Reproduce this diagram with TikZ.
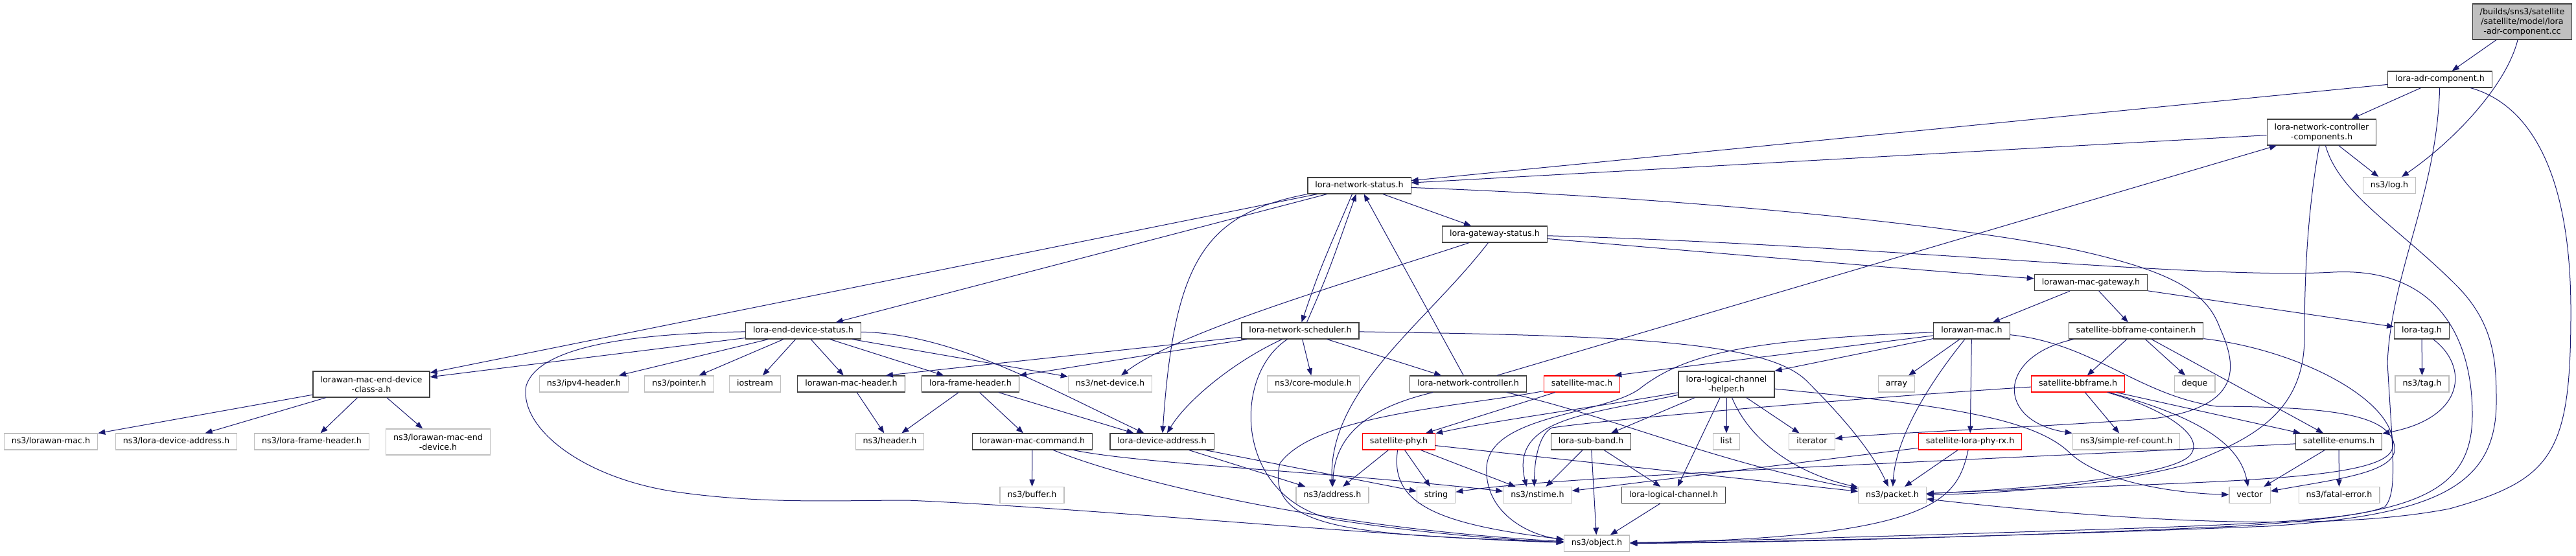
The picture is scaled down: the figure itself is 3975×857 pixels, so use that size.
\documentclass[tikz,border=0pt]{standalone}
\usepackage{fontspec}
\setmainfont{DejaVu Sans}
\usetikzlibrary{arrows.meta}
\definecolor{edgeblue}{HTML}{191970}
\definecolor{grey25}{HTML}{404040}
\definecolor{grey75}{HTML}{BFBFBF}
\begin{document}
\begin{tikzpicture}[x=1pt,y=-1pt,
  every node/.style={font=\fontsize{12.7pt}{15pt}\selectfont,align=center,inner xsep=11.5pt,inner ysep=5pt,
    minimum height=25pt,text height=9.3pt,text depth=3pt,line width=1.2pt,fill=white},
  hdr/.style={draw=grey25},
  sys/.style={draw=grey75},
  cut/.style={draw=red},
  two/.style={minimum height=40pt,text height={},text depth={}},
  srcfile/.style={draw=grey25,fill=grey75,minimum height=55pt,text height={},text depth={}},
  dep/.style={draw=edgeblue,line width=1pt,-{Triangle[length=11pt,width=8.5pt]}}]
  \useasboundingbox (0,0) rectangle (3975,857);
  \node[srcfile] (cc) at (3892,33.5) {/builds/sns3/satellite\\/satellite/model/lora\\-adr-component.cc};
  \node[hdr] (adr) at (3765,122.5) {lora-adr-component.h};
  \node[hdr,two] (nccomp) at (3582.5,204) {lora-network-controller\\-components.h};
  \node[sys] (log) at (3687,286) {ns3/log.h};
  \node[hdr] (nstatus) at (2097.5,286.5) {lora-network-status.h};
  \node[hdr] (gwstatus) at (2306.5,361.5) {lora-gateway-status.h};
  \node[hdr] (macgw) at (3226.5,436) {lorawan-mac-gateway.h};
  \node[hdr] (edstatus) at (1239.5,510.5) {lora-end-device-status.h};
  \node[hdr] (sched) at (2006.5,510.5) {lora-network-scheduler.h};
  \node[hdr] (lwmac) at (3042.5,510.5) {lorawan-mac.h};
  \node[hdr] (bbcont) at (3296,510.5) {satellite-bbframe-container.h};
  \node[hdr] (loratag) at (3737,510.5) {lora-tag.h};
  \node[hdr,two] (classa) at (573,593) {lorawan-mac-end-device\\-class-a.h};
  \node[sys] (ipv4) at (901,592.5) {ns3/ipv4-header.h};
  \node[sys] (pointer) at (1048,592.5) {ns3/pointer.h};
  \node[sys] (iostream) at (1165,592.5) {iostream};
  \node[hdr] (macheader) at (1313.5,592.5) {lorawan-mac-header.h};
  \node[hdr] (frameheader) at (1497.5,592.5) {lora-frame-header.h};
  \node[sys] (netdev) at (1713,592.5) {ns3/net-device.h};
  \node[sys] (coremod) at (2026.5,592.5) {ns3/core-module.h};
  \node[hdr] (ncontrol) at (2265.5,592.5) {lora-network-controller.h};
  \node[cut] (satmac) at (2441,592.5) {satellite-mac.h};
  \node[hdr,two] (helper) at (2664,593) {lora-logical-channel\\-helper.h};
  \node[sys] (array) at (2926.5,592.5) {array};
  \node[cut] (bbframe) at (3206.5,592.5) {satellite-bbframe.h};
  \node[sys] (deque) at (3386.5,592.5) {deque};
  \node[sys] (tag) at (3737.5,592.5) {ns3/tag.h};
  \node[sys] (extlwmac) at (78.5,681.5) {ns3/lorawan-mac.h};
  \node[sys] (extdevaddr) at (272,681.5) {ns3/lora-device-address.h};
  \node[sys] (extframe) at (481,681.5) {ns3/lora-frame-header.h};
  \node[sys,two] (extenddev) at (676,682) {ns3/lorawan-mac-end\\-device.h};
  \node[sys] (header) at (1373,681.5) {ns3/header.h};
  \node[hdr] (maccmd) at (1593,681.5) {lorawan-mac-command.h};
  \node[hdr] (devaddr) at (1793,681.5) {lora-device-address.h};
  \node[cut] (satphy) at (2158.5,681.5) {satellite-phy.h};
  \node[hdr] (subband) at (2455,681.5) {lora-sub-band.h};
  \node[sys] (list) at (2664,681.5) {list};
  \node[sys] (iterator) at (2796,681.5) {iterator};
  \node[cut] (phyrx) at (3040,681.5) {satellite-lora-phy-rx.h};
  \node[sys] (simpleref) at (3281,681.5) {ns3/simple-ref-count.h};
  \node[hdr] (satenums) at (3609,681.5) {satellite-enums.h};
  \node[sys] (buffer) at (1592.5,764) {ns3/buffer.h};
  \node[sys] (address) at (2056,764) {ns3/address.h};
  \node[sys] (string) at (2216,764) {string};
  \node[sys] (nstime) at (2372.5,764) {ns3/nstime.h};
  \node[hdr] (logchan) at (2582.5,764) {lora-logical-channel.h};
  \node[sys] (packet) at (2920,764) {ns3/packet.h};
  \node[sys] (vector) at (3471.5,764) {vector};
  \node[sys] (fatal) at (3609.5,764) {ns3/fatal-error.h};
  \node[sys] (object) at (2464,838.5) {ns3/object.h};

  \draw[dep] (cc) -- (adr);
  \draw[dep] (cc) .. controls (3868,130) and (3790,215) .. (log);
  \draw[dep] (adr) -- (nstatus);
  \draw[dep] (adr) -- (nccomp);
  \draw[dep] (adr) .. controls (3760,300) and (3690,420) .. (3684,560) .. controls (3692,700) and (3700,760) .. (3680,782)
    .. controls (3640,800) and (3500,808) .. (3300,815) .. controls (3000,825) and (2700,834) .. (object);
  \draw[dep] (adr) .. controls (3900,160) and (3967,260) .. (3967,480) .. controls (3967,700) and (3940,740) .. (3780,785)
    .. controls (3550,830) and (3150,790) .. (packet);
  \draw[dep] (nccomp) -- (nstatus);
  \draw[dep] (nccomp) -- (log);
  \draw[dep] (nccomp) .. controls (3560,330) and (3556,430) .. (3556,520) .. controls (3556,640) and (3470,680) .. (3370,718)
    .. controls (3250,750) and (3080,762) .. (packet);
  \draw[dep] (nccomp) .. controls (3610,300) and (3700,350) .. (3790,440) .. controls (3850,500) and (3852,560) .. (3852,620)
    .. controls (3852,750) and (3760,795) .. (3500,812) .. controls (3100,828) and (2700,837) .. (object);
  \draw[dep] (nstatus) -- (classa);
  \draw[dep] (nstatus) -- (edstatus);
  \draw[dep] (nstatus) -- (gwstatus);
  \draw[dep] ([xshift=-11pt]nstatus.south) .. controls (2035,420) .. ([xshift=2pt]sched.north);
  \draw[dep] ([xshift=10pt]sched.north) .. controls (2050,420) .. ([xshift=-5pt]nstatus.south);
  \draw[dep] (nstatus.south west) .. controls (1860,330) and (1812,400) .. (devaddr);
  \draw[dep] (nstatus) .. controls (2600,305) and (3000,345) .. (3200,385) .. controls (3350,418) and (3405,450) .. (3425,505)
    .. controls (3450,560) and (3465,625) .. (3330,645) .. controls (3150,660) and (2900,668) .. (iterator);
  \draw[dep] (gwstatus) .. controls (2700,395) and (3000,420) .. (macgw);
  \draw[dep] (gwstatus) .. controls (2900,378) and (3400,432) .. (3600,420) .. controls (3760,412) and (3815,520) .. (3815,640)
    .. controls (3815,765) and (3720,795) .. (3450,812) .. controls (3050,830) and (2700,838) .. (object);
  \draw[dep] (gwstatus) .. controls (2100,430) and (1820,510) .. (netdev);
  \draw[dep] (gwstatus) .. controls (2200,500) and (2050,600) .. (address);
  \draw[dep] (sched) -- (coremod);
  \draw[dep] (sched) -- (ncontrol);
  \draw[dep] (sched) .. controls (2500,518) and (2730,525) .. (2790,590) .. controls (2850,650) and (2890,700) .. (packet);
  \draw[dep] (sched) -- ([xshift=-30pt]macheader.north east);
  \draw[dep] (sched) -- (frameheader.north east);
  \draw[dep] (sched) .. controls (1900,560) and (1830,620) .. (devaddr);
  \draw[dep] (sched) .. controls (1900,580) and (1905,770) .. (2060,802) .. controls (2200,824) and (2340,834) .. (object);
  \draw[dep] (ncontrol) -- (nstatus);
  \draw[dep] (ncontrol) -- (nccomp);
  \draw[dep] (ncontrol) .. controls (2130,625) and (2060,660) .. (address);
  \draw[dep] (ncontrol) .. controls (2480,640) and (2650,715) .. (packet);
  \draw[dep] (satmac) -- (satphy);
  \draw[dep] (satmac) .. controls (2250,628) and (2030,640) .. (1975,715) .. controls (1950,820) and (2100,825) .. (object);
  \draw[dep] (satphy) -- (address);
  \draw[dep] (satphy) -- (string);
  \draw[dep] (satphy) -- (nstime);
  \draw[dep] (satphy) .. controls (2145,775) and (2210,808) .. (object);
  \draw[dep] (satphy) -- (packet);
  \draw[dep] (helper) -- (subband);
  \draw[dep] (helper) -- (logchan);
  \draw[dep] (helper) -- (list);
  \draw[dep] (helper) -- (iterator);
  \draw[dep] (helper) .. controls (2700,680) and (2770,730) .. (packet);
  \draw[dep] (helper) .. controls (3000,625) and (3140,645) .. (3195,700) .. controls (3250,750) and (3380,762) .. (vector);
  \draw[dep] (helper) .. controls (2450,630) and (2300,650) .. (satphy);
  \draw[dep] (helper) .. controls (2450,640) and (2330,645) .. ([xshift=-17pt]nstime.north);
  \draw[dep] (lwmac) -- ([xshift=-9pt]satmac.north east);
  \draw[dep] (lwmac) -- (helper.north east);
  \draw[dep] (lwmac) -- (array);
  \draw[dep] (lwmac) -- (phyrx);
  \draw[dep] (lwmac) .. controls (2970,600) and (2925,680) .. (packet);
  \draw[dep] (lwmac) .. controls (2700,524) and (2600,545) .. (2530,600) .. controls (2475,640) and (2300,640) .. (2294,720)
    .. controls (2290,792) and (2360,826) .. (object);
  \draw[dep] (lwmac) .. controls (3230,530) and (3300,610) .. (3420,627) .. controls (3600,628) and (3690,640) .. (3695,690)
    .. controls (3700,730) and (3600,740) .. (vector);
  \draw[dep] (macgw) -- (lwmac);
  \draw[dep] (macgw) -- (bbcont);
  \draw[dep] (macgw) -- (loratag);
  \draw[dep] (bbcont) -- (bbframe);
  \draw[dep] (bbcont) -- (deque);
  \draw[dep] (bbcont) -- (satenums);
  \draw[dep] ([xshift=8pt]bbcont.south west) .. controls (3080,550) and (3080,650) .. (simpleref);
  \draw[dep] (bbcont) .. controls (3550,540) and (3700,620) .. (3692,690) .. controls (3685,745) and (3400,742) .. (packet);
  \draw[dep] (bbframe) -- (simpleref);
  \draw[dep] (bbframe) -- (satenums);
  \draw[dep] (bbframe) .. controls (3380,640) and (3455,680) .. (vector);
  \draw[dep] (bbframe) .. controls (3330,628) and (3405,670) .. (3380,702) .. controls (3350,738) and (3100,756) .. (packet);
  \draw[dep] (bbframe) .. controls (2900,612) and (2500,645) .. (2395,660) .. controls (2378,668) and (2368,700) .. ([xshift=-5pt]nstime.north);
  \draw[dep] (phyrx) -- (packet);
  \draw[dep] (phyrx) .. controls (3020,770) and (2990,830) .. (object);
  \draw[dep] (phyrx) -- (nstime);
  \draw[dep] (satenums) -- (vector);
  \draw[dep] (satenums) -- (fatal);
  \draw[dep] (satenums) .. controls (3000,712) and (2400,735) .. (string);
  \draw[dep] (loratag) -- (tag);
  \draw[dep] (loratag) .. controls (3810,565) and (3805,645) .. (satenums);
  \draw[dep] (edstatus) -- (classa);
  \draw[dep] (edstatus) -- (ipv4);
  \draw[dep] (edstatus) -- (pointer);
  \draw[dep] (edstatus) -- (iostream);
  \draw[dep] (edstatus) -- (macheader);
  \draw[dep] (edstatus) -- (frameheader);
  \draw[dep] (edstatus) -- (netdev);
  \draw[dep] (edstatus) .. controls (1470,515) and (1610,595) .. (devaddr);
  \draw[dep] (edstatus) .. controls (950,515) and (830,540) .. (812,595) .. controls (800,660) and (900,740) .. (1050,760)
    .. controls (1180,778) and (1300,772) .. (1400,772) .. controls (1700,785) and (2150,830) .. (object);
  \draw[dep] (classa) -- (extlwmac);
  \draw[dep] (classa) -- (extdevaddr);
  \draw[dep] (classa) -- (extframe);
  \draw[dep] (classa) -- (extenddev);
  \draw[dep] (macheader) -- (header);
  \draw[dep] (frameheader) -- (header);
  \draw[dep] (frameheader) -- (maccmd);
  \draw[dep] (frameheader) -- (devaddr);
  \draw[dep] (maccmd) -- (buffer);
  \draw[dep] (maccmd) .. controls (1760,716) and (2050,728) .. (nstime);
  \draw[dep] (maccmd) .. controls (1750,745) and (2050,815) .. (object);
  \draw[dep] (devaddr) -- (address);
  \draw[dep] (devaddr) -- (string);
  \draw[dep] (subband) -- (nstime);
  \draw[dep] (subband) -- (object);
  \draw[dep] (subband) -- (logchan);
  \draw[dep] (logchan) -- (object);
\end{tikzpicture}
\end{document}
